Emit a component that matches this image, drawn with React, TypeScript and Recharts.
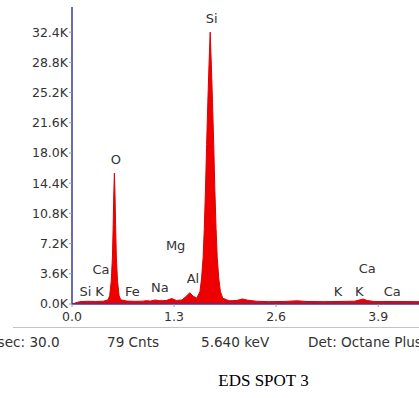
import React from 'react';
import { AreaChart, Area, XAxis, YAxis, ReferenceDot } from 'recharts';

// spectrum: energy (keV) and counts
const energies = [
  0.0, 0.05, 0.1, 0.2, 0.3, 0.4, 0.46, 0.48, 0.5, 0.515, 0.525, 0.532, 0.54, 0.548, 0.555, 0.565,
  0.58, 0.6, 0.62, 0.7, 0.8, 0.9, 0.95, 1.0, 1.06, 1.12, 1.2, 1.27, 1.33, 1.4, 1.46, 1.5, 1.54,
  1.59, 1.63, 1.65, 1.67, 1.685, 1.7, 1.715, 1.73, 1.745, 1.76, 1.775, 1.79, 1.805, 1.82, 1.835,
  1.85, 1.87, 1.89, 1.92, 2.0, 2.1, 2.17, 2.24, 2.35, 2.5, 2.7, 2.87, 2.98, 3.2, 3.4, 3.6, 3.67,
  3.71, 3.76, 3.85, 4.1, 4.42,
];
const counts = [
  0, 150, 280, 320, 300, 330, 500, 1000, 2700, 5600, 9500, 13000, 15600, 13000, 9500, 5600,
  2700, 1000, 500, 350, 320, 340, 400, 350, 480, 380, 420, 650, 420, 480, 950, 1350, 950,
  700, 1500, 3000, 5500, 9000, 13500, 19000, 24000, 28500, 32400, 28500, 24000, 19000, 13500, 9000,
  5500, 3000, 1500, 700, 380, 420, 600, 450, 330, 280, 300, 380, 300, 280, 300, 330, 500,
  580, 420, 290, 300, 280,
];

const yTicks = [0, 3600, 7200, 10800, 14400, 18000, 21600, 25200, 28800, 32400];
const xTicks = [0, 1.3, 2.6, 3.9];

// element markers: name, energy (keV), label height (counts)
const markerNames = ['Si', 'K', 'Ca', 'O', 'Fe', 'Na', 'Mg', 'Al', 'Si', 'K', 'K', 'Ca', 'Ca'];
const markerEnergies = [0.17, 0.35, 0.37, 0.56, 0.77, 1.12, 1.32, 1.54, 1.78, 3.39, 3.66, 3.76, 4.08];
const markerHeights = [1550, 1550, 4100, 17200, 1550, 2000, 7000, 3000, 34100, 1550, 1550, 4300, 1550];

const footer = ['Lsec: 30.0', '79 Cnts', '5.640 keV', 'Det: Octane Plus'];

const data = energies.map((e, i) => ({ e, c: counts[i] }));

const sans = '"DejaVu Sans", sans-serif';

export default function App() {
  return (
    <div
      style={{
        position: 'absolute',
        left: 0,
        top: 0,
        width: 419,
        height: 398,
        overflow: 'hidden',
        background: '#fff',
      }}
    >
      <AreaChart
        width={419}
        height={330}
        data={data}
        margin={{ top: 7, right: 0, left: 0, bottom: 6 }}
      >
        <XAxis
          dataKey="e"
          type="number"
          domain={[0, 4.42]}
          ticks={xTicks}
          tickFormatter={(v: number) => v.toFixed(1)}
          axisLine={{ stroke: '#3a3a9a', strokeWidth: 1.5 }}
          tickLine={{ stroke: '#999' }}
          tickSize={3}
          tickMargin={5}
          height={20}
          interval={0}
          tick={{ fontSize: 12.5, fill: '#333', fontFamily: sans }}
        />
        <YAxis
          type="number"
          domain={[0, 35400]}
          ticks={yTicks}
          tickFormatter={(v: number) => (v / 1000).toFixed(1) + 'K'}
          axisLine={{ stroke: '#3a3a9a', strokeWidth: 1.5 }}
          tickLine={{ stroke: '#999' }}
          tickSize={3}
          tickMargin={1}
          width={72}
          interval={0}
          tick={{ fontSize: 12.5, fill: '#333', fontFamily: sans }}
        />
        <Area
          type="linear"
          dataKey="c"
          stroke="#e00000"
          strokeWidth={1}
          fill="#ee0000"
          fillOpacity={1}
          isAnimationActive={false}
          dot={false}
          activeDot={false}
        />
        {markerNames.map((name, i) => (
          <ReferenceDot
            key={i}
            x={markerEnergies[i]}
            y={markerHeights[i]}
            r={0}
            fill="none"
            stroke="none"
            label={{
              value: name,
              position: 'center',
              fontSize: 13,
              fill: '#333',
              fontFamily: sans,
            }}
          />
        ))}
      </AreaChart>
      <div
        style={{
          position: 'absolute',
          left: 13,
          top: 327,
          width: 406,
          height: 0,
          borderTop: '1.5px solid #c4c4c4',
        }}
      />
      {footer.map((t, i) => (
        <div
          key={i}
          style={{
            position: 'absolute',
            left: [-10, 107, 201, 308][i],
            top: 334,
            fontFamily: sans,
            fontSize: 13.6,
            color: '#333',
            whiteSpace: 'nowrap',
          }}
        >
          {t}
        </div>
      ))}
      <div
        style={{
          position: 'absolute',
          left: 0,
          width: 527,
          top: 371,
          textAlign: 'center',
          fontFamily: '"Liberation Serif", serif',
          fontSize: 17,
          color: '#000',
        }}
      >
        EDS SPOT 3
      </div>
    </div>
  );
}
